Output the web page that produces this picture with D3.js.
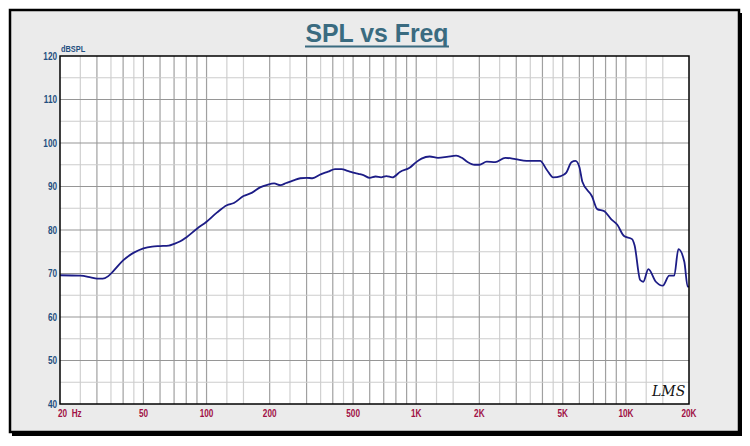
<!DOCTYPE html>
<html><head><meta charset="utf-8">
<script src="https://cdn.jsdelivr.net/npm/d3@7"></script>
<style>
html,body{margin:0;padding:0;background:#fff;}
svg{display:block;}
</style></head>
<body>
<svg id="c" width="750" height="446"></svg>
<script>
const freqs = [20,25,28,30,32,34,36,40,45,50,55,60,66,70,75,80,90,100,112,125,135,150,165,180,195,210,225,240,260,280,300,320,350,380,410,440,470,500,530,560,600,640,680,720,770,840,930,1000,1060,1160,1270,1400,1550,1650,1750,1900,2000,2170,2380,2660,2970,3360,3900,4200,4500,4900,5200,5500,5750,6000,6200,6900,7300,7900,8500,9100,9800,10700,11000,11700,12100,12800,13900,15000,16100,17000,17800,19000,19700,20000];
const spl = [69.6,69.5,69.1,68.8,68.8,69.4,70.6,73.0,74.8,75.8,76.2,76.3,76.4,76.8,77.4,78.3,80.3,81.9,84.0,85.7,86.2,87.8,88.6,89.8,90.4,90.7,90.3,90.8,91.4,91.9,92.0,91.9,92.8,93.4,94.0,94.0,93.6,93.2,92.9,92.6,92.0,92.3,92.1,92.4,92.1,93.4,94.3,95.6,96.4,96.9,96.6,96.8,97.1,96.6,95.7,95.0,95.0,95.7,95.6,96.6,96.3,95.9,95.9,93.8,92.1,92.4,93.2,95.6,95.9,94.5,91.1,87.7,84.8,84.3,82.5,81.2,78.6,77.9,76.5,68.5,68.1,71.0,68.1,67.2,69.5,69.5,75.6,72.7,67.0,67.0];
const yTicks = [40,50,60,70,80,90,100,110,120];
const xTickVals = [20,50,100,200,500,1000,2000,5000,10000,20000];
const xTickLabels = ["20  Hz","50","100","200","500","1K","2K","5K","10K","20K"];
const gridMults = [1,1.25,1.5,2,2.5,3,3.5,4,4.5,5,6,7,8,9];
const title = "SPL vs Freq";
const yUnit = "dBSPL";

const svg = d3.select("#c");
const L=60, R=689, T=56, B=404;
const x = d3.scaleLog().domain([20,20000]).range([L,R]);
const y = d3.scaleLinear().domain([40,120]).range([B,T]);
const SX = 0.78;

// frame
svg.append("rect").attr("x",12).attr("y",13).attr("width",730).attr("height",423).attr("fill","#000");
svg.append("rect").attr("x",10).attr("y",10).attr("width",729).attr("height",422).attr("fill","#ebebeb").attr("stroke","#000").attr("stroke-width",2.5);

// plot bg
svg.append("rect").attr("x",L).attr("y",T).attr("width",R-L).attr("height",B-T).attr("fill","#fff");

// vertical grid
const vgrid = [];
[10,100,1000,10000].forEach(d=>gridMults.forEach(m=>{const f=d*m; if(f>20 && f<20000) vgrid.push({f,major:Number.isInteger(m)});}));
svg.append("g").selectAll("line").data(vgrid).join("line")
  .attr("x1",d=>x(d.f)).attr("x2",d=>x(d.f)).attr("y1",T).attr("y2",B)
  .attr("stroke",d=>d.major?"#a0a0a0":"#d0d0d0").attr("stroke-width",1.2);

// horizontal grid
const hgrid = d3.range(45,120,5);
svg.append("g").selectAll("line").data(hgrid).join("line")
  .attr("x1",L).attr("x2",R).attr("y1",d=>y(d)).attr("y2",d=>y(d))
  .attr("stroke",d=>d%10===0?"#969696":"#cccccc").attr("stroke-width",1.2);

// curve
const pts = freqs.map((f,i)=>[f,spl[i]]);
svg.append("path").datum(pts)
  .attr("d",d3.line().x(d=>x(d[0])).y(d=>y(d[1])).curve(d3.curveMonotoneX))
  .attr("fill","none").attr("stroke","#1c1c86").attr("stroke-width",1.8);

// plot border
svg.append("rect").attr("x",L).attr("y",T).attr("width",R-L).attr("height",B-T)
  .attr("fill","none").attr("stroke","#000").attr("stroke-width",1.5);

const font = "'Liberation Sans',Arial,sans-serif";

// y ticks
svg.append("g").selectAll("text").data(yTicks).join("text")
  .attr("transform",d=>`translate(57,${y(d)+3.5}) scale(${SX},1)`).attr("text-anchor","end")
  .attr("font-family",font).attr("font-weight","bold").attr("font-size",10.5)
  .attr("fill","#1f4f80").text(d=>d);
svg.append("text").attr("transform",`translate(61,51.5) scale(${SX},1)`).attr("font-family",font)
  .attr("font-weight","bold").attr("font-size",9.5).attr("fill","#1f4f80").text(yUnit);

// x ticks
svg.append("g").selectAll("text").data(xTickVals).join("text")
  .attr("transform",(d,i)=>`translate(${i===0?58:x(d)},417) scale(${SX},1)`)
  .attr("text-anchor",(d,i)=>i===0?"start":"middle")
  .attr("font-family",font).attr("font-weight","bold").attr("font-size",10.5)
  .attr("fill","#a01045").style("white-space","pre")
  .text((d,i)=>xTickLabels[i]);

// title
svg.append("text").attr("x",377).attr("y",42).attr("text-anchor","middle")
  .attr("font-family",font).attr("font-weight","bold").attr("font-size",25)
  .attr("fill","#3a6b80").attr("textLength",143).attr("lengthAdjust","spacingAndGlyphs").text(title);
svg.append("line").attr("x1",305).attr("x2",449).attr("y1",46.5).attr("y2",46.5)
  .attr("stroke","#3a6b80").attr("stroke-width",2);

// signature
svg.append("text").attr("x",652).attr("y",396).attr("font-family","'DejaVu Serif',serif")
  .attr("font-style","italic").attr("font-size",14).attr("fill","#111").text("LMS");
</script>
</body></html>
